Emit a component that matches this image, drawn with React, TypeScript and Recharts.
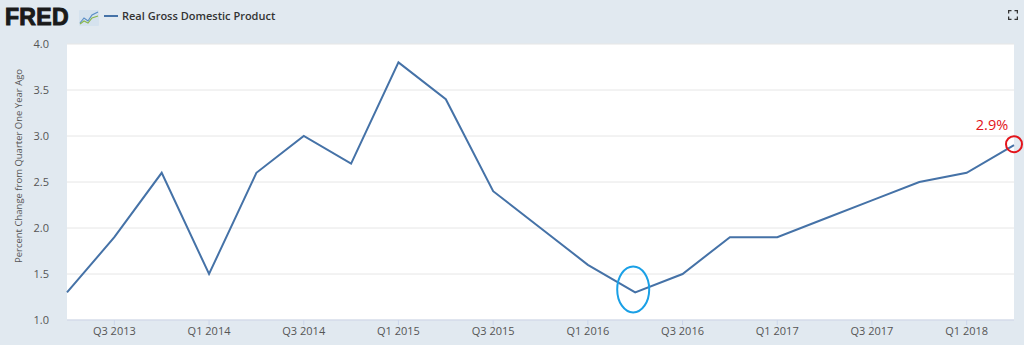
import React from "react";
import { LineChart, Line, XAxis, YAxis, CartesianGrid, ReferenceDot } from "recharts";

const quarters = [
  "Q2 2013", "Q3 2013", "Q4 2013", "Q1 2014", "Q2 2014", "Q3 2014", "Q4 2014",
  "Q1 2015", "Q2 2015", "Q3 2015", "Q4 2015", "Q1 2016", "Q2 2016", "Q3 2016",
  "Q4 2016", "Q1 2017", "Q2 2017", "Q3 2017", "Q4 2017", "Q1 2018", "Q2 2018",
];
const gdpChange = [
  1.3, 1.9, 2.6, 1.5, 2.6, 3.0, 2.7,
  3.8, 3.4, 2.4, 2.0, 1.6, 1.3, 1.5,
  1.9, 1.9, 2.1, 2.3, 2.5, 2.6, 2.9,
];
const xTicks = ["Q3 2013", "Q1 2014", "Q3 2014", "Q1 2015", "Q3 2015", "Q1 2016", "Q3 2016", "Q1 2017", "Q3 2017", "Q1 2018"];
const yTicks = [1.0, 1.5, 2.0, 2.5, 3.0, 3.5, 4.0];
const seriesName = "Real Gross Domestic Product";
const yLabel = "Percent Change from Quarter One Year Ago";
const latestLabel = "2.9%";

const data = quarters.map((q, i) => ({ q, v: gdpChange[i] }));

const BG = "#e1e9f0";
const LINE = "#4572a7";
const FONT = "'Open Sans', 'DejaVu Sans', sans-serif";

export default function App() {
  return (
    <div style={{ position: "absolute", left: 0, top: 0, width: 1024, height: 345, background: BG, overflow: "hidden", fontFamily: FONT }}>
      {/* header */}
      <div style={{ position: "absolute", left: 5, top: 4, fontFamily: "'Liberation Sans', Arial, sans-serif", fontWeight: 700, fontSize: 23, letterSpacing: 0.3, color: "#1a1a1a", lineHeight: "26px", WebkitTextStroke: "1px #1a1a1a" }}>
        FRED
      </div>
      <svg style={{ position: "absolute", left: 79, top: 10 }} width={20} height={16}>
        <rect x={0} y={0} width={20} height={16} fill="#d5e2ee" rx={1} />
        <polyline points="1,13 5,8 9,11 13,5 19,2" fill="none" stroke="#5b8fc7" strokeWidth={1.2} />
        <polyline points="1,14 5,11 9,13 13,8 19,6" fill="none" stroke="#8ab84c" strokeWidth={1.2} />
      </svg>
      <svg style={{ position: "absolute", left: 104, top: 14 }} width={16} height={4}>
        <line x1={0} y1={2} x2={14} y2={2} stroke={LINE} strokeWidth={2} />
      </svg>
      <div style={{ position: "absolute", left: 122, top: 8, fontSize: 11, fontWeight: 600, color: "#333", lineHeight: "16px" }}>
        {seriesName}
      </div>
      <svg style={{ position: "absolute", left: 1008, top: 10 }} width={10} height={10}>
        <path d="M0.5,3.5 V0.5 H3.5 M6.5,0.5 H9.5 V3.5 M9.5,6.5 V9.5 H6.5 M3.5,9.5 H0.5 V6.5" fill="none" stroke="#333" strokeWidth={1.5} />
      </svg>

      <div style={{ position: "absolute", left: 0, top: 0 }}>
        <LineChart width={1024} height={345} data={data} margin={{ top: 44, right: 10, bottom: 0, left: 0 }}>
          <CartesianGrid vertical={false} stroke="#e6e6e6" fill="#ffffff" />
          <XAxis
            dataKey="q"
            ticks={xTicks}
            interval={0}
            height={25}
            axisLine={{ stroke: "#ccd6eb" }}
            tickLine={{ stroke: "#ccd6eb" }}
            tickSize={5}
            tickMargin={2}
            tick={{ fill: "#555", fontSize: 11, fontFamily: FONT }}
          />
          <YAxis
            domain={[1, 4]}
            ticks={yTicks}
            width={67}
            axisLine={false}
            tickLine={false}
            tickSize={6}
            tickMargin={12}
            tickFormatter={(v: number) => v.toFixed(1)}
            tick={{ fill: "#555", fontSize: 11, fontFamily: FONT }}
            label={{ value: yLabel, angle: -90, position: "insideLeft", offset: 0, dx: 19, dy: -16, fill: "#555", fontSize: 9.5, fontFamily: FONT, style: { textAnchor: "middle" } }}
          />
          <Line type="linear" dataKey="v" stroke={LINE} strokeWidth={2} dot={false} isAnimationActive={false} />
          <ReferenceDot
            x="Q2 2016"
            y={1.3}
            ifOverflow="visible"
            shape={(p: any) => (
              <ellipse cx={p.cx - 2} cy={p.cy - 3} rx={16} ry={23} fill="none" stroke="#1aa0e6" strokeWidth={2} />
            )}
          />
          <ReferenceDot
            x="Q2 2018"
            y={2.9}
            ifOverflow="visible"
            shape={(p: any) => (
              <g>
                <circle cx={p.cx} cy={p.cy - 1} r={8} fill="none" stroke="#e3141b" strokeWidth={2} />
                <text x={p.cx - 22} y={p.cy - 15} textAnchor="middle" fill="#e3141b" fontSize={14.5} fontFamily={FONT}>
                  {latestLabel}
                </text>
              </g>
            )}
          />
        </LineChart>
      </div>
    </div>
  );
}
